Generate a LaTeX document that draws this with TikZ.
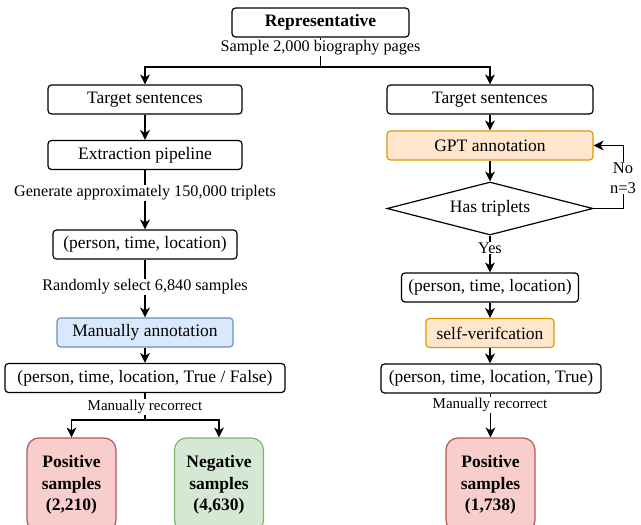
\documentclass[tikz,border=0pt]{standalone}
\usepackage{fontspec}
\setmainfont{Liberation Serif}
\usetikzlibrary{shapes.geometric,arrows.meta}

\definecolor{annblue}{HTML}{DAE8FC}
\definecolor{annblueline}{HTML}{6C8EBF}
\definecolor{gptorange}{HTML}{FFE6CC}
\definecolor{gptorangeline}{HTML}{D79B00}
\definecolor{posred}{HTML}{F8CECC}
\definecolor{posredline}{HTML}{B85450}
\definecolor{neggreen}{HTML}{D5E8D4}
\definecolor{neggreenline}{HTML}{82B366}

\tikzset{
  stepbox/.style={draw=black, line width=1.2pt, rounded corners=3.5pt, minimum height=29pt, inner sep=0pt, font=\fontsize{17.5}{20}\selectfont},
  resultbox/.style={draw, line width=1.2pt, rounded corners=12pt, minimum width=89pt, minimum height=94pt, inner sep=0pt, align=center, font=\fontsize{17.5}{21.5}\selectfont\bfseries},
  edgelabel/.style={fill=white, inner sep=1pt, font=\fontsize{16.2}{18}\selectfont},
  flow/.style={line width=1.2pt, -{Stealth[length=10pt,width=10pt,inset=3pt]}},
  plain/.style={line width=1.2pt}
}

\begin{document}
\begin{tikzpicture}[x=1pt, y=-1pt]
\useasboundingbox (0,0) rectangle (641,525);

% top
\node[stepbox, minimum width=177pt, font=\fontsize{17.5}{20}\selectfont\bfseries] (rep) at (320.5,22.5) {Representative};
\coordinate (split) at (320.5,67);

% left branch
\node[stepbox, minimum width=194pt] (tsL) at (145,99.5) {Target sentences};
\node[stepbox, minimum width=194pt] (ext) at (145,155) {Extraction pipeline};
\node[stepbox, minimum width=184pt] (tripL) at (145,244.5) {(person, time, location)};
\node[stepbox, minimum width=176pt, fill=annblue, draw=annblueline] (man) at (145,332.5) {Manually annotation};
\node[stepbox, minimum width=280pt] (tfL) at (145,378) {(person, time, location, True / False)};
\coordinate (splitL) at (145,420);
\node[resultbox, fill=posred, draw=posredline] (posL) at (71.5,485) {Positive\\samples\\(2,210)};
\node[resultbox, fill=neggreen, draw=neggreenline] (neg) at (219,485) {Negative\\samples\\(4,630)};

% right branch
\node[stepbox, minimum width=206pt] (tsR) at (490,99.5) {Target sentences};
\node[stepbox, minimum width=206pt, fill=gptorange, draw=gptorangeline] (gpt) at (490,145.5) {GPT annotation};
\node[draw, line width=1.2pt, diamond, aspect=4, minimum width=206pt, minimum height=53pt, inner sep=0pt, font=\fontsize{17.5}{20}\selectfont] (has) at (490,208.5) {Has triplets};
\node[stepbox, minimum width=177pt] (tripR) at (490,287.5) {(person, time, location)};
\node[stepbox, minimum width=128pt, fill=gptorange, draw=gptorangeline] (self) at (490,333) {self-verifcation};
\node[stepbox, minimum width=220pt] (tfR) at (491,378.5) {(person, time, location, True)};
\node[resultbox, fill=posred, draw=posredline] (posR) at (490.5,485) {Positive\\samples\\(1,738)};

% connectors
\draw[plain] (rep) -- (split);
\draw[flow] (split) -| (tsL);
\draw[flow] (split) -| (tsR);
\draw[flow] (tsL) -- (ext);
\draw[flow] (ext) -- (tripL);
\draw[flow] (tripL) -- (man);
\draw[flow] (man) -- (tfL);
\draw[plain] (tfL) -- (splitL);
\draw[flow] (splitL) -| (posL);
\draw[flow] (splitL) -| (neg);
\draw[flow] (tsR) -- (gpt);
\draw[flow] (gpt) -- (has);
\draw[flow] (has.east) -- ++(30,0) |- (gpt.east);
\draw[flow] (has) -- (tripR);
\draw[flow] (tripR) -- (self);
\draw[flow] (self) -- (tfR.north -| self);
\draw[flow] (tfR.south -| posR) -- (posR);

% labels on connectors
\node[edgelabel] (lsample) at (320.5,48) {Sample 2,000 biography pages};
\node[edgelabel] (lgen) at (145,193) {Generate approximately 150,000 triplets};
\node[edgelabel] (lrand) at (145,287) {Randomly select 6,840 samples};
\node[edgelabel, font=\fontsize{15}{17}\selectfont] (lrecL) at (145,407) {Manually recorrect};
\node[edgelabel, font=\fontsize{15}{17}\selectfont] (lrecR) at (490,405) {Manually recorrect};
\node[edgelabel, align=center, font=\fontsize{16.5}{20}\selectfont] (lno) at (623,178) {No\\n=3};
\node[edgelabel] (lyes) at (490,248) {Yes};
\end{tikzpicture}
\end{document}
